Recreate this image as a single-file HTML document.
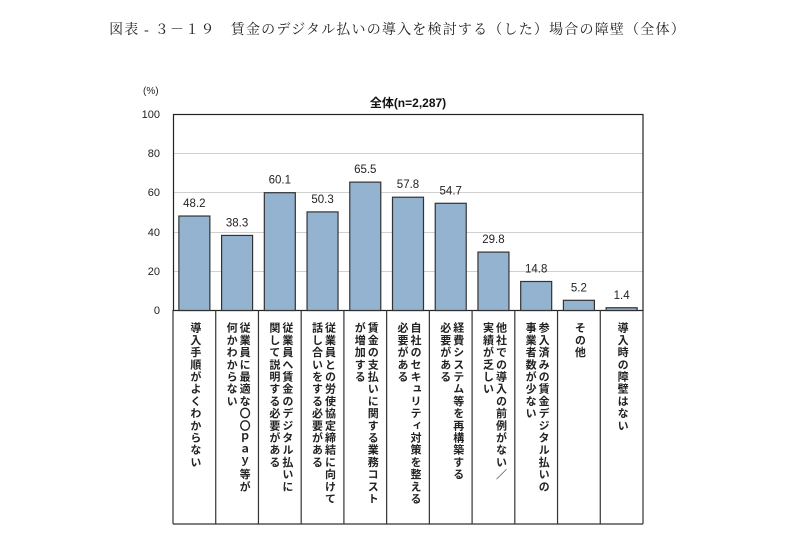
<!DOCTYPE html>
<html><head><meta charset="utf-8"><style>
body{margin:0;background:#fff;}
.wrap{position:relative;width:795px;height:550px;overflow:hidden;font-family:"Liberation Sans","Noto Sans CJK JP",sans-serif;}
.title{position:absolute;left:0;width:795px;top:19px;text-align:center;font-family:"Liberation Serif","Noto Serif CJK SC",serif;font-size:14px;letter-spacing:1.2px;color:#222;}
.cell{position:absolute;top:322px;height:198px;writing-mode:vertical-rl;font-size:11px;line-height:13px;letter-spacing:1.2px;font-weight:bold;color:#222;}
</style></head><body><div class="wrap">
<div class="title">図表 - ３－１９　賃金のデジタル払いの導入を検討する（した）場合の障壁（全体）</div>
<svg width="795" height="550" style="position:absolute;left:0;top:0" font-family="Liberation Sans, Noto Sans CJK JP, sans-serif">
<g stroke="#d0d0d0" stroke-width="1">
<line x1="173" y1="153.5" x2="643" y2="153.5"/><line x1="173" y1="192.5" x2="643" y2="192.5"/><line x1="173" y1="232.5" x2="643" y2="232.5"/><line x1="173" y1="271.5" x2="643" y2="271.5"/>
</g>
<rect x="173.5" y="114.5" width="469.5" height="196" fill="none" stroke="#222" stroke-width="1.2"/>
<g font-size="11" fill="#222" text-anchor="end">
<text x="160" y="118">100</text><text x="160" y="157">80</text><text x="160" y="196">60</text><text x="160" y="236">40</text><text x="160" y="275">20</text><text x="160" y="314">0</text>
</g>
<text x="143" y="94" font-size="10" fill="#222">(%)</text>
<text x="408" y="107" font-size="12" font-weight="bold" text-anchor="middle" fill="#111">全体(n=2,287)</text>
<g fill="#93b3d1" stroke="#333" stroke-width="1.2" id="bars"></g>
<g font-size="11.5" fill="#222" text-anchor="middle" id="labs"></g>
<g stroke="#333" stroke-width="1.2" id="tbl"></g>
</svg>
<div id="cells"></div>
</div>
<script>
var v=[48.2,38.3,60.1,50.3,65.5,57.8,54.7,29.8,14.8,5.2,1.4];
var t=[["導入手順がよくわからない"],["従業員に最適な〇〇ｐａｙ等が","何かわからない"],["従業員へ賃金のデジタル払いに","関して説明する必要がある"],["従業員との労使協定締結に向けて","話し合いをする必要がある"],["賃金の支払いに関する業務コスト","が増加する"],["自社のセキュリティ対策を整える","必要がある"],["経費システム等を再構築する","必要がある"],["他社での導入の前例がない／","実績が乏しい"],["参入済みの賃金デジタル払いの","事業者数が少ない"],["その他"],["導入時の障壁はない"]];
var x0=173,w=470/11,b="",l="",tb="",c="";
for(var i=0;i<11;i++){var cx=x0+w*(i+0.5),h=v[i]*1.96,y=310.5-h;
b+='<rect x="'+(cx-15.5)+'" y="'+y+'" width="31" height="'+h+'"/>';
l+='<text x="'+cx+'" y="'+(y-9)+'">'+v[i].toFixed(1)+'</text>';
tb+='<line x1="'+(x0+w*i)+'" y1="310" x2="'+(x0+w*i)+'" y2="524"/>';
var s=t[i].join('<br>'),cw=t[i].length*13;
c+='<div class="cell" style="left:'+(cx-cw/2)+'px;width:'+cw+'px">'+s+'</div>';}
tb+='<line x1="643" y1="310" x2="643" y2="524"/><line x1="173" y1="524" x2="643" y2="524"/>';
document.getElementById('bars').innerHTML=b;document.getElementById('labs').innerHTML=l;document.getElementById('tbl').innerHTML=tb;document.getElementById('cells').innerHTML=c;
</script>
</body></html>
